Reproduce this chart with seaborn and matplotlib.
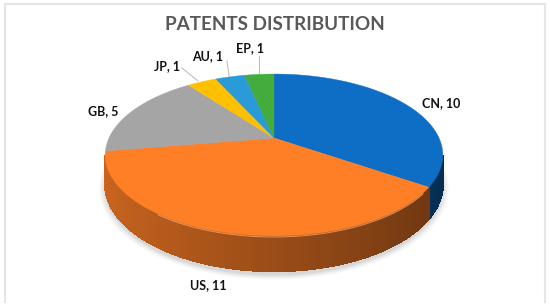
import numpy as np
import seaborn as sns
import matplotlib.pyplot as plt

categories = ["CN", "US", "GB", "JP", "AU", "EP"]
patents = [10, 11, 5, 1, 1, 1]
colors = ["#0E6EC5", "#FF7F27", "#A5A5A5", "#FFC000", "#2A9BD8", "#43AC3D"]
chart_title = "PATENTS DISTRIBUTION"

# label centres and leader lines, in pixels of the picture
label_xy = [(441, 103), (208, 285), (103, 111), (167, 66), (208, 56), (250, 48)]
leaders = [((182, 68), (198, 81)), ((227, 61), (229, 76)), ((259, 56), (259, 73))]

# perspective of the disc
cx, cy = 274, 138
sx, sy, k = 165, 77.4, 0.21
depth = 27.7


def project(u, v, drop=0.0):
    w = 1 + k * v
    return cx + sx * u / w, cy - (sy * v - drop) / w


def make_pie():
    sns.set_theme(style="white")
    plt.rcParams["font.family"] = ["Lato", "DejaVu Sans"]
    palette = sns.color_palette(colors)

    fig = plt.figure(figsize=(5.5, 3.07), dpi=100)
    ax = fig.add_axes([5 / 550, 5 / 307, 540 / 550, 298 / 307])

    # The pie gives the slice angles, then each slice is redrawn in perspective
    wedges = ax.pie(patents, colors=palette, startangle=90, counterclock=False)[0]
    ax.set_aspect("auto")
    ax.set_xlim(5, 545)
    ax.set_ylim(302, 4)
    for w in wedges:
        w.set_visible(False)

    # soft shadow under the disc
    t = np.radians(np.linspace(0, 360, 240))
    for grow, alpha in zip([1.035, 1.025, 1.015, 1.005], [0.05, 0.07, 0.09, 0.12]):
        x, y = project(grow * np.cos(t), grow * np.sin(t), depth + 3)
        ax.fill(x, y, color="#808080", alpha=alpha, lw=0, zorder=1)

    # side wall, shaded from left to right; only the part in front of the disc's widest points
    for w, col in zip(wedges, palette):
        angles = np.linspace(w.theta1, w.theta2, int(w.theta2 - w.theta1) + 2)
        for a0, a1 in zip(angles[:-1], angles[1:]):
            if np.sin(np.radians((a0 + a1) / 2)) > -k:
                continue
            t = np.radians([a0, a1])
            u, v = np.cos(t), np.sin(t)
            xt, yt = project(u, v)
            xb, yb = project(u, v, depth)
            shade = 0.80 - 0.39 * (u.mean() + 1) / 2
            c = np.array(col) * shade
            ax.fill([xt[0], xt[1], xb[1], xb[0]], [yt[0], yt[1], yb[1], yb[0]],
                    facecolor=c, edgecolor=c, lw=1.0, antialiased=False, zorder=2)

    # top of the disc
    for w, col in zip(wedges, palette):
        t = np.radians(np.linspace(w.theta1, w.theta2, 120))
        x, y = project(np.cos(t), np.sin(t))
        ax.fill(np.r_[cx, x], np.r_[cy, y], facecolor=col, edgecolor=col, lw=0.3, zorder=3)

    # lighter rim on the front edge of the big slice
    t = np.radians(np.linspace(wedges[1].theta1 + 45, wedges[1].theta2 - 4, 80))
    x, y = project(np.cos(t), np.sin(t), 0.8)
    ax.plot(x, y, color="#FFB27A", lw=0.7, alpha=0.7, zorder=4)

    for start, end in leaders:
        ax.plot([start[0], end[0]], [start[1], end[1]], color="#BFBFBF", lw=0.8, zorder=4)

    for cat, val, (lx, ly) in zip(categories, patents, label_xy):
        ax.text(lx, ly, f"{cat}, {val}", ha="center", va="center", fontsize=9,
                fontweight="bold", color="#111111", zorder=5)
    ax.text(275, 25, chart_title, ha="center", va="center", fontsize=13.6,
            fontweight="bold", color="#595959", zorder=5)

    # pale frame, open at the bottom
    ax.set_frame_on(True)
    ax.set_axis_on()
    ax.set_xticks([])
    ax.set_yticks([])
    for side, spine in ax.spines.items():
        spine.set_visible(side != "bottom")
        spine.set_color("#E6E6E6")
        spine.set_linewidth(1.5)

    fig.savefig("out.png", dpi=100)
    plt.close(fig)


if __name__ == "__main__":
    make_pie()
